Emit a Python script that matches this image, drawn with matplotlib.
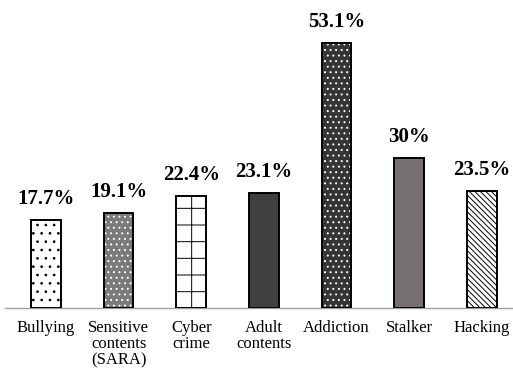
import matplotlib
matplotlib.use("Agg")
import matplotlib.pyplot as plt

categories = ["Bullying", "Sensitive\ncontents\n(SARA)", "Cyber\ncrime", "Adult\ncontents",
              "Addiction", "Stalker", "Hacking"]
values = [17.7, 19.1, 22.4, 23.1, 53.1, 30.0, 23.5]
labels = ["17.7%", "19.1%", "22.4%", "23.1%", "53.1%", "30%", "23.5%"]

faces = ["white", "#7a7a7a", "white", "#404040", "#353535", "#767070", "white"]
hatches = ["..", "...", "+", "", "...", "", "\\" * 6]
hatch_cols = ["black", "white", "black", "black", "white", "black", "black"]

plt.rcParams["hatch.linewidth"] = 0.7
fig = plt.figure(figsize=(5.13, 3.76), dpi=100)
ax = fig.add_axes([5/513, 68/376, 508/513, 300/376])
x = list(range(len(categories)))
w = 0.41
for i in x:
    ax.bar(x[i], values[i], width=w, color=faces[i], hatch=hatches[i],
           edgecolor=hatch_cols[i], linewidth=0, zorder=2)
    ax.bar(x[i], values[i], width=w, fill=False, edgecolor="black",
           linewidth=1.4, zorder=3)
    ax.text(x[i], values[i] + 2.1, labels[i], ha="center", va="bottom",
            fontsize=15, fontweight="bold", family="Liberation Serif")

ax.set_xlim(-0.564, 6.43)
ax.set_ylim(0, 60)
for s in ["top", "right", "left"]:
    ax.spines[s].set_visible(False)
ax.spines["bottom"].set_color("#a0a0a0")
ax.spines["bottom"].set_linewidth(1.0)
ax.set_yticks([])
ax.set_xticks(x)
ax.set_xticklabels(categories, family="Liberation Serif", fontsize=12, linespacing=1.0)
ax.tick_params(axis="x", length=0, pad=9)
fig.savefig("out.png", dpi=100)
